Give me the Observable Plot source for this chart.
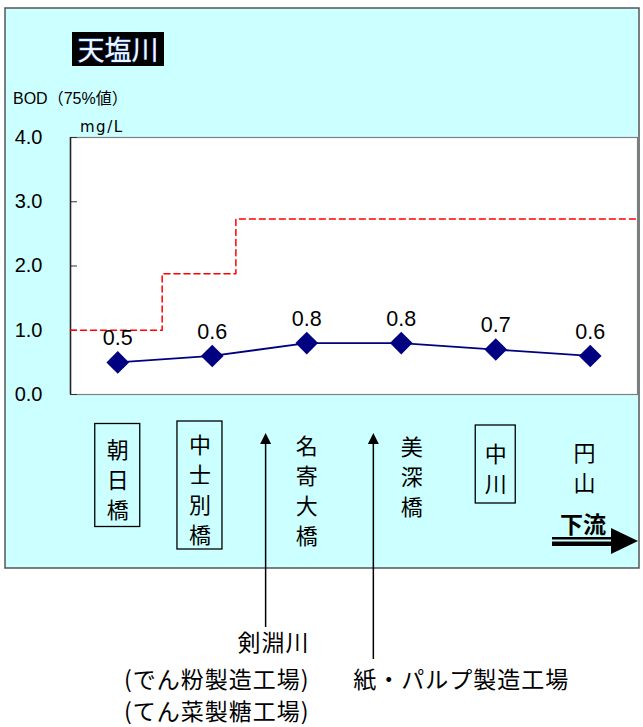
<!DOCTYPE html>
<html>
<head>
<meta charset="utf-8">
<script src="https://cdn.jsdelivr.net/npm/d3@7"></script>
<script src="https://cdn.jsdelivr.net/npm/@observablehq/plot@0.6"></script>
<style>
  html, body { margin: 0; padding: 0; background: #ffffff; }
  #chart svg { display: block; }
</style>
</head>
<body>
<div id="chart"></div>
<script>
// ---- data ----
const riverName = "天塩川";
const yTitle = "BOD（75%値）";
const yUnit = "mg/L";
const sites = ["朝日橋", "中士別橋", "名寄大橋", "美深橋", "中川", "円山"];
const bod = [0.5, 0.6, 0.8, 0.8, 0.7, 0.6];
const boxedSites = ["朝日橋", "中士別橋", "中川"];
const yTicks = [0, 1, 2, 3, 4];
// environmental standard (step line): break positions along river (site index units) and levels
const stdBreaks = [-0.5, 0.47, 1.25, 5.5];
const stdLevels = [1.0, 1.88, 2.73, 2.73];
// inflows along river (site index units)
const inflowAt = [1.57, 2.71];
const inflowLabels = [["剣淵川", "(でん粉製造工場)", "(てん菜製糖工場)"], ["紙・パルプ製造工場"]];
const flowLabel = "下流";

// ---- layout ----
const FONT = "'Liberation Sans', 'Noto Sans CJK JP', sans-serif";
const JFONT = "'Noto Sans CJK JP', sans-serif";
const labelShift = [0, -0.13, 0, 0.11, 0, -0.06];
const labelCenter = [478, 488, 489, 475, 467, 466];

const stdPts = stdBreaks.map((x, i) => ({x, y: stdLevels[i]}));
const pts = sites.map((s, i) => ({i, site: s, v: bod[i]}));

const plot = Plot.plot({
  width: 643,
  height: 727,
  marginLeft: 70,
  marginRight: 6,
  marginTop: 137,
  marginBottom: 333,
  style: {fontFamily: FONT, background: "transparent", overflow: "visible", color: "black"},
  x: {type: "linear", domain: [-0.5, 5.5], axis: null},
  y: {type: "linear", domain: [0, 4], axis: null},
  marks: [
    Plot.frame({fill: "white", stroke: "#808080", strokeWidth: 1.2}),
    Plot.axisY(yTicks, {tickSize: -7, tickFormat: () => "", label: null, stroke: "#333"}),
    Plot.axisY(yTicks, {tickSize: 0, tickPadding: 28, tickFormat: d => d.toFixed(1), fontSize: 20, label: null, fill: "black"}),
    Plot.ruleX([-0.5], {stroke: "#222", strokeWidth: 1.5}),
    Plot.line(stdPts, {x: "x", y: "y", curve: "step-after", stroke: "#ff0000", strokeWidth: 1.5, strokeDasharray: "6,4"}),
    Plot.line(pts, {x: "i", y: "v", stroke: "#000080", strokeWidth: 1.8}),
    Plot.dot(pts, {x: "i", y: "v", symbol: "diamond2", r: 10.2, fill: "#000080", stroke: "none"}),
    Plot.text(pts, {x: "i", y: "v", text: d => d.v.toFixed(1), dy: -24, fontSize: 21.5, fill: "black"}),
    ...sites.map((s, i) => Plot.text([s], {
      x: () => i + labelShift[i],
      frameAnchor: "bottom",
      dy: labelCenter[i] - 394,
      text: d => d.split("").join("\n"),
      lineAnchor: "middle",
      lineHeight: 1.36,
      fontSize: 22,
      fontFamily: JFONT,
      fill: "black"
    }))
  ]
});

document.getElementById("chart").appendChild(plot);

const svg = d3.select(plot);
const xs = plot.scale("x");

// panel background
svg.insert("rect", ":first-child")
  .attr("x", 5).attr("y", 8).attr("width", 634).attr("height", 560)
  .attr("fill", "#ccffff").attr("stroke", "#555").attr("stroke-width", 1.5);

const deco = svg.append("g").attr("font-family", JFONT).attr("text-anchor", "start");

// title
deco.append("rect").attr("x", 72).attr("y", 32).attr("width", 92).attr("height", 34).attr("fill", "#000");
deco.append("text").attr("x", 118).attr("y", 50).attr("dy", "0.36em").attr("text-anchor", "middle")
  .attr("font-size", 27).attr("fill", "#f2f6ff").attr("stroke", "#2f6fd0").attr("stroke-width", 0.8)
  .attr("paint-order", "stroke").text(riverName);

// y title and unit
deco.append("text").attr("x", 13).attr("y", 104).attr("font-size", 16).attr("fill", "#000")
  .attr("font-family", FONT).text(yTitle);
deco.append("text").attr("x", 80).attr("y", 132).attr("font-size", 15).attr("letter-spacing", 1.5).attr("fill", "#000")
  .attr("font-family", "'DejaVu Sans', sans-serif").text(yUnit);

// boxes around some site labels
sites.forEach((s, i) => {
  if (!boxedSites.includes(s)) return;
  const cx = xs.apply(i + labelShift[i]);
  const n = s.length;
  const h = n * 25 + 28;
  const w = n === 2 ? 40 : 45;
  deco.append("rect").attr("x", cx - w / 2).attr("y", labelCenter[i] - 3 - h / 2)
    .attr("width", w).attr("height", h).attr("fill", "none").attr("stroke", "#000").attr("stroke-width", 1.3);
});

// inflow arrows and labels
const inflowEnd = [627, 659];
inflowAt.forEach((at, k) => {
  const x = xs.apply(at);
  deco.append("line").attr("x1", x).attr("x2", x).attr("y1", 440).attr("y2", inflowEnd[k])
    .attr("stroke", "#000").attr("stroke-width", 1.5);
  deco.append("path").attr("d", `M${x},433 L${x - 5.5},444 L${x + 5.5},444 Z`).attr("fill", "#000");
});
// 剣淵川 labels: right aligned
inflowLabels[0].forEach((t, j) => {
  deco.append("text").attr("x", xs.apply(inflowAt[0]) + 44).attr("y", [643, 680, 712][j]).attr("dy", "0.36em")
    .attr("text-anchor", "end").attr("font-size", 23).attr("letter-spacing", 1).attr("fill", "#000").text(t);
});
inflowLabels[1].forEach((t, j) => {
  deco.append("text").attr("x", xs.apply(inflowAt[1]) - 20).attr("y", 680).attr("dy", "0.36em")
    .attr("text-anchor", "start").attr("font-size", 23).attr("letter-spacing", 1).attr("fill", "#000").text(t);
});

// downstream arrow
deco.append("text").attr("x", 583).attr("y", 525).attr("dy", "0.36em").attr("text-anchor", "middle")
  .attr("font-size", 23).attr("font-weight", 700).attr("fill", "#000").text(flowLabel);
deco.append("rect").attr("x", 552).attr("y", 537).attr("width", 62).attr("height", 2.5).attr("fill", "#000");
deco.append("rect").attr("x", 552).attr("y", 541.5).attr("width", 62).attr("height", 4.5).attr("fill", "#000");
deco.append("path").attr("d", "M611,528 L638,541 L611,554 Z").attr("fill", "#000");
</script>
</body>
</html>
